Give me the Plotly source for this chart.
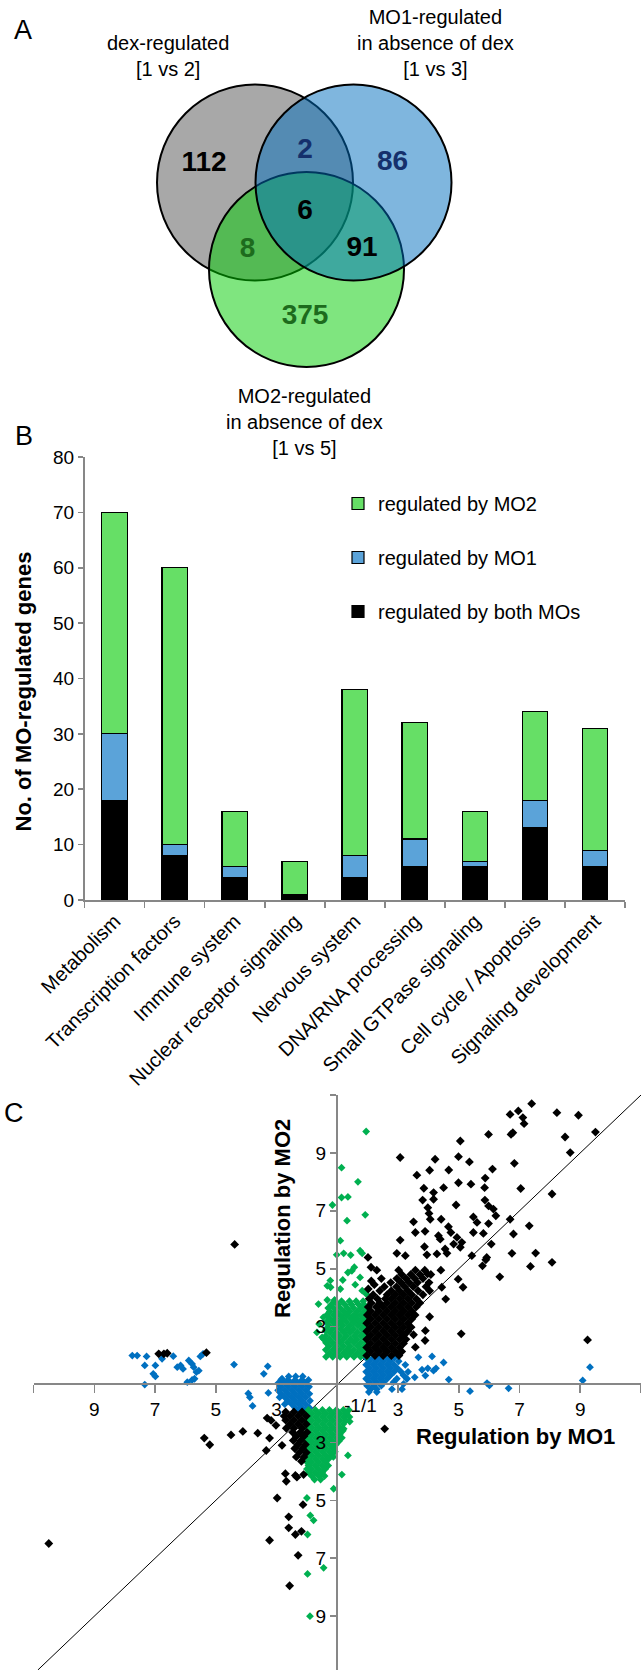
import plotly.graph_objects as go

W, H = 641, 1670
FONT = "Liberation Sans, Arial, sans-serif"
AX = "#878787"

# ---------------- Panel A: Venn data ----------------
venn_set_labels = [
    "dex-regulated<br>[1 vs 2]",
    "MO1-regulated<br>in absence of dex<br>[1 vs 3]",
    "MO2-regulated<br>in absence of dex<br>[1 vs 5]",
]
venn_regions = ["dex only", "MO1 only", "MO2 only", "dex & MO1", "dex & MO2", "MO1 & MO2", "all three"]
venn_counts = [112, 86, 375, 2, 8, 91, 6]
venn_count_colors = ["#000000", "#15306c", "#1d6b1d", "#15306c", "#1d6b1d", "#000000", "#000000"]

# ---------------- Panel B: bar data ----------------
categories = ["Metabolism", "Transcription factors", "Immune system", "Nuclear receptor signaling",
              "Nervous system", "DNA/RNA processing", "Small GTPase signaling",
              "Cell cycle / Apoptosis", "Signaling development"]
both_mos = [18, 8, 4, 1, 4, 6, 6, 13, 6]
mo1_only = [12, 2, 2, 0, 4, 5, 1, 5, 3]
mo2_only = [40, 50, 10, 6, 30, 21, 9, 16, 22]
bar_ticks = list(range(0, 81, 10))

# ---------------- Panel C: scatter data ----------------
# axis units: signed (fold change - 1); 0 = "-1/1"
fold_tick_pos = [-10, -8, -6, -4, -2, 2, 4, 6, 8, 10]
fold_tick_text = ["", "9", "7", "5", "3", "3", "5", "7", "9", ""]

green_rows = [
    (0.96, [-0.37, -0.15, 0.09, 0.31, 0.55, 0.77, 0.97]),
    (1.08, [-0.26, -0.03, 0.21, 0.43, 0.66, 0.88]),
    (1.20, [-0.38, -0.14, 0.08, 0.32, 0.54, 0.78, 0.96]),
    (1.32, [-0.27, -0.04, 0.20, 0.42, 0.67, 0.89]),
    (1.44, [-0.37, -0.15, 0.09, 0.33, 0.55, 0.77, 0.97]),
    (1.56, [-0.26, -0.02, 0.20, 0.44, 0.65, 0.90]),
    (1.68, [-0.38, -0.13, 0.08, 0.31, 0.56, 0.78, 0.96]),
    (1.80, [-0.25, -0.03, 0.21, 0.43, 0.66, 0.88]),
    (1.92, [-0.37, -0.15, 0.10, 0.32, 0.54, 0.79, 0.97]),
    (2.04, [-0.27, -0.03, 0.19, 0.43, 0.67, 0.89]),
    (2.16, [-0.36, -0.14, 0.09, 0.31, 0.55, 0.77, 0.96]),
    (2.28, [-0.26, -0.04, 0.20, 0.44, 0.66, 0.88]),
    (2.40, [-0.35, -0.13, 0.09, 0.32, 0.55, 0.78, 0.95]),
    (2.52, [-0.25, -0.03, 0.21, 0.42, 0.66, 0.89]),
    (2.64, [-0.30, -0.12, 0.10, 0.33, 0.54, 0.77, 0.93]),
    (2.76, [-0.20, 0.02, 0.25, 0.47, 0.70, 0.88]),
    (2.88, [-0.10, 0.14, 0.40, 0.62, 0.85]),
    (-0.88, [-0.95, -0.72, -0.49, -0.26, -0.03, 0.20, 0.38]),
    (-1.00, [-1.03, -0.84, -0.61, -0.38, -0.15, 0.08, 0.30]),
    (-1.12, [-0.95, -0.72, -0.49, -0.26, -0.03, 0.20, 0.40]),
    (-1.24, [-1.03, -0.84, -0.61, -0.38, -0.15, 0.08, 0.28]),
    (-1.36, [-0.95, -0.72, -0.49, -0.26, -0.03, 0.20]),
    (-1.48, [-1.03, -0.84, -0.61, -0.38, -0.15, 0.08]),
    (-1.60, [-0.95, -0.72, -0.49, -0.26, -0.03, 0.18]),
    (-1.72, [-1.03, -0.84, -0.61, -0.38, -0.15, 0.08]),
    (-1.84, [-0.95, -0.72, -0.49, -0.26, -0.03, 0.15]),
    (-1.96, [-1.03, -0.84, -0.61, -0.38, -0.15, 0.05]),
    (-2.08, [-0.95, -0.72, -0.49, -0.26, -0.05]),
    (-2.20, [-1.03, -0.84, -0.61, -0.38, -0.15]),
    (-2.32, [-0.95, -0.72, -0.49, -0.26, -0.08]),
    (-2.44, [-1.00, -0.84, -0.61, -0.38, -0.18]),
    (-2.56, [-0.95, -0.72, -0.49, -0.28]),
    (-2.68, [-1.00, -0.84, -0.61, -0.38]),
    (-2.80, [-0.95, -0.72, -0.49, -0.30]),
    (-2.92, [-1.00, -0.84, -0.61, -0.40]),
    (-3.04, [-0.95, -0.72, -0.50]),
    (-3.16, [-0.84, -0.61, -0.42]),
    (-3.28, [-0.75, -0.55]),
]
green_scattered = [
    (0.95, 8.74), (0.14, 7.49), (0.68, 7.0), (0.14, 6.46), (0.35, 6.48), (-0.16, 6.20), (0.92, 5.86),
    (0.32, 5.66), (0.10, 4.97), (-0.02, 4.48), (0.21, 4.53), (0.44, 4.47), (0.75, 4.62), (0.82, 4.53),
    (0.35, 3.87), (0.48, 3.93), (0.75, 3.70), (0.18, 3.61), (-0.22, 3.36), (-0.33, 3.41), (0.10, 3.30),
    (0.82, 3.24), (0.95, 3.13), (-0.62, 2.78), (-0.33, 2.92), (-0.09, 2.92), (-0.46, 2.32), (-0.60, 2.09),
    (-0.39, 1.86), (-0.46, 1.58), (-0.67, 1.80), (-0.50, 1.63), (0.56, 4.05), (0.59, 3.45), (-0.23, 3.59),
    (0.35, -2.45), (0.15, -3.11), (-0.12, -3.60), (-1.0, -3.92), (-0.89, -4.52), (-0.78, -4.69),
    (-0.98, -5.18), (-0.45, -6.33), (-0.98, -6.54), (-0.90, -8.0), (0.41, -1.28), (0.21, -1.53),
    (-0.13, -2.5),
]

blue_rows = [
    (0.92, [0.95, 1.18, 1.41, 1.64, 1.88]),
    (0.80, [1.06, 1.29, 1.52, 1.75, 2.02]),
    (0.68, [0.95, 1.18, 1.41, 1.64, 1.87, 2.24]),
    (0.56, [1.06, 1.29, 1.52, 1.75, 1.98]),
    (0.44, [0.95, 1.18, 1.41, 1.64, 1.87, 2.10, 2.33]),
    (0.32, [1.06, 1.29, 1.52, 1.75, 2.18]),
    (0.20, [0.95, 1.18, 1.41, 1.64, 1.96, 2.29]),
    (0.08, [1.06, 1.29, 1.52, 1.85]),
    (-0.04, [0.98, 1.21, 1.45]),
    (-0.16, [1.10, 1.30, 1.80, 2.13]),
    (-0.26, [1.04, 1.30]),
    (0.28, [-1.60, -1.37, -1.14]),
    (0.16, [-1.85, -1.62, -1.39, -1.16, -0.95]),
    (0.04, [-1.95, -1.73, -1.50, -1.27, -1.04]),
    (-0.08, [-1.85, -1.62, -1.39, -1.16, -0.93]),
    (-0.20, [-1.95, -1.73, -1.50, -1.27, -1.04]),
    (-0.32, [-1.85, -1.62, -1.39, -1.16, -0.92]),
    (-0.44, [-1.90, -1.73, -1.50, -1.27, -1.04]),
    (-0.56, [-1.62, -1.39, -1.16, -0.90]),
    (-0.68, [-1.73, -1.50, -1.27, -1.04]),
    (-0.80, [-1.39, -1.16, -0.92]),
    (-0.90, [-1.27, -1.04]),
]
blue_scattered = [
    (2.55, 0.25), (2.90, 0.31), (3.17, 0.48), (2.98, 0.56), (3.12, 0.97), (3.50, 0.76), (3.25, 0.56),
    (3.67, 0.17), (4.37, -0.23), (4.93, 0.05), (5.01, -0.03), (5.64, -0.13), (8.08, 0.14), (8.32, 0.60),
    (2.67, 0.94), (2.79, 0.51), (2.29, 0.20), (2.18, 0.02),
    (-6.75, 1.0), (-6.59, 1.0), (-6.28, 0.97), (-6.34, 0.66), (-5.99, 0.66), (-6.06, 0.37), (-5.99, 0.28),
    (-6.34, 0.0), (-5.77, 0.89), (-5.40, 0.98), (-5.27, 0.60), (-5.16, 0.66), (-5.08, 0.54), (-4.89, 0.83),
    (-4.78, 0.71), (-4.73, 0.60), (-4.64, 0.43), (-4.56, 0.48), (-4.94, 0.08), (-4.78, 0.16), (-4.70, 0.20),
    (-4.51, 0.97), (-4.42, 1.06), (-3.40, 0.69), (-2.42, 0.37), (-2.29, 0.63), (-2.93, -0.31),
    (-2.79, -0.74), (-2.27, -0.29), (-1.82, 0.2), (-1.93, 0.02), (-2.88, -0.44),
]

black_rows = [
    (1.00, [0.97, 1.24, 1.51, 1.78, 2.03]),
    (1.14, [1.10, 1.37, 1.64, 1.91, 2.12]),
    (1.28, [0.97, 1.24, 1.51, 1.78, 2.05]),
    (1.42, [1.10, 1.37, 1.64, 1.91, 2.18]),
    (1.56, [0.97, 1.24, 1.51, 1.78, 2.05, 2.26]),
    (1.70, [1.10, 1.37, 1.64, 1.91, 2.18]),
    (1.84, [0.97, 1.24, 1.51, 1.78, 2.05, 2.32]),
    (1.98, [1.10, 1.37, 1.64, 1.91, 2.18, 2.40]),
    (2.12, [0.97, 1.24, 1.51, 1.78, 2.05, 2.32]),
    (2.26, [1.10, 1.37, 1.64, 1.91, 2.18, 2.45]),
    (2.40, [0.99, 1.24, 1.51, 1.78, 2.05, 2.32, 2.56]),
    (2.54, [1.10, 1.37, 1.64, 1.91, 2.18, 2.45]),
    (2.68, [1.02, 1.28, 1.51, 1.78, 2.05, 2.32, 2.60]),
    (2.82, [1.12, 1.40, 1.64, 1.91, 2.18, 2.45, 2.72]),
    (2.96, [1.05, 1.32, 1.58, 1.78, 2.05, 2.32, 2.60]),
    (3.10, [1.18, 1.64, 1.91, 2.18, 2.45, 2.82]),
    (3.24, [1.40, 1.78, 2.05, 2.32, 2.66]),
    (3.38, [1.55, 1.95, 2.22, 2.50, 2.92]),
    (3.52, [1.76, 2.10, 2.37, 2.64, 3.02]),
    (3.66, [1.96, 2.26, 2.55, 2.82]),
    (3.80, [2.12, 2.42, 2.72, 3.08]),
    (3.95, [2.02, 2.57, 2.88]),
    (-0.95, [-1.70, -1.43, -1.16]),
    (-1.09, [-1.75, -1.56, -1.29, -1.02]),
    (-1.23, [-1.70, -1.43, -1.16]),
    (-1.37, [-1.56, -1.29, -1.02]),
    (-1.51, [-1.68, -1.43, -1.16]),
    (-1.65, [-1.47, -1.22, -1.00]),
    (-1.79, [-1.35, -1.10]),
    (-1.93, [-1.45, -1.20]),
    (-2.07, [-1.30, -1.05]),
    (-2.21, [-1.40, -1.15]),
    (-2.35, [-1.25, -1.02]),
    (-2.50, [-1.35, -1.10]),
    (-2.65, [-1.18]),
]
black_scattered = [
    (5.69, 9.33), (5.96, 9.45), (6.11, 9.22), (6.15, 9.01), (5.78, 8.70), (5.72, 8.64), (4.98, 8.64),
    (4.05, 8.41), (2.07, 7.84), (3.22, 7.78), (3.99, 7.87), (4.35, 7.69), (5.83, 7.64), (5.11, 7.44),
    (2.62, 7.23), (3.04, 7.40), (3.67, 7.41), (4.87, 7.13), (3.99, 6.97), (4.40, 6.92), (4.85, 6.80),
    (6.04, 6.77), (2.85, 6.78), (3.17, 6.63), (3.50, 6.80), (2.81, 6.37), (3.17, 6.40), (3.91, 6.20),
    (4.86, 6.37), (2.98, 6.11), (4.98, 6.17), (5.14, 6.06), (3.02, 5.91), (3.06, 5.71), (3.42, 5.71),
    (2.51, 5.62), (3.66, 5.45), (4.48, 5.79), (4.60, 5.60), (5.22, 5.83), (5.69, 5.71), (6.32, 5.48),
    (2.57, 5.25), (2.89, 5.29), (3.33, 5.14), (3.74, 5.25), (3.94, 5.08), (4.10, 4.91), (4.48, 5.25),
    (4.81, 5.22), (4.98, 5.56), (2.07, 4.99), (3.39, 5.02), (3.83, 4.85), (4.05, 4.74), (5.07, 4.85),
    (5.80, 5.20), (2.87, 4.76), (3.55, 4.68), (1.96, 4.53), (2.24, 4.45), (2.95, 4.48), (3.28, 4.51),
    (3.61, 4.53), (4.43, 4.45), (4.92, 4.39), (5.75, 4.53), (1.01, 4.39),
    (7.23, 9.39), (7.94, 9.30), (8.50, 8.72), (7.50, 8.55), (7.67, 8.01), (7.07, 6.58), (6.53, 4.54),
    (6.36, 4.08), (7.07, 4.22), (8.24, 1.54), (6.40, 9.70), (5.35, 3.72), (4.78, 4.10), (4.89, 4.31),
    (4.08, 1.75), (4.14, 3.36), (3.98, 3.64), (3.57, 2.95), (3.04, 2.34), (2.90, 1.86), (2.43, 1.98),
    (2.57, 1.29), (2.18, 1.69), (2.51, 1.72), (2.89, 1.52), (1.11, 4.05), (1.30, 3.95), (1.45, 3.66),
    (2.97, 3.82), (3.41, 3.95), (3.44, 3.36), (3.04, 3.24), (1.02, 3.30), (1.12, 3.58), (1.22, 3.45),
    (-3.38, 4.84), (-5.88, 1.06), (-5.71, 1.06), (-5.60, 1.08), (-4.31, 1.10),
    (-4.38, -1.85), (-4.20, -2.08), (-3.50, -1.74), (-3.11, -1.62), (-2.62, -1.68), (-2.23, -1.85),
    (-2.34, -2.28), (-1.82, -2.10), (-2.31, -1.16), (-2.18, -1.24), (-2.02, -1.41), (-1.71, -3.08),
    (-1.68, -3.34), (-1.38, -3.14), (-1.33, -3.20), (-1.11, -3.11), (-1.98, -3.92), (-1.13, -4.15),
    (-1.60, -4.57), (-1.60, -4.95), (-1.38, -5.18), (-1.18, -5.07), (-2.23, -5.38), (-1.29, -5.90),
    (-1.57, -6.95), (-9.50, -5.49), (1.56, -1.53),
]
identity_line = [-9.86, 10]


# ---------------- helpers (layout only) ----------------
def fx(p):
    return p / W


def fy(p):
    return 1 - p / H


def flatten(rows, extra):
    xs, ys = [], []
    for yv, row in rows:
        for xv in row:
            xs.append(xv)
            ys.append(yv)
    for xv, yv in extra:
        xs.append(xv)
        ys.append(yv)
    return xs, ys


def note(text, x, y, size, angle=0):
    return dict(text=text, x=fx(x), y=fy(y), xref="paper", yref="paper", showarrow=False,
                xanchor="center", yanchor="middle", textangle=angle,
                font=dict(size=size, family=FONT, color="black"))


fig = go.Figure()

# ---------------- Panel A ----------------
venn_label_pos = [(204, 164), (392.5, 163), (305, 317), (305, 151), (247.5, 250), (362, 249), (305, 212)]
fig.add_trace(go.Scatter(
    x=[p[0] for p in venn_label_pos], y=[p[1] for p in venn_label_pos], mode="text",
    text=[f"<b>{c}</b>" for c in venn_counts],
    textfont=dict(size=28, color=venn_count_colors, family=FONT),
    xaxis="x3", yaxis="y3", showlegend=False, hoverinfo="skip"))

venn_circles = [  # (cx, cy, r, fill)
    (255, 182.5, 98, "#a8a8a8"),
    (306.5, 269.5, 97.5, "rgba(0,203,0,0.5)"),
    (353.5, 182.5, 98, "rgba(0,109,189,0.5)"),
]
shapes = []
for cx, cy, r, fill in venn_circles:
    shapes.append(dict(type="circle", xref="x3", yref="y3", x0=cx - r, x1=cx + r, y0=cy - r, y1=cy + r,
                       fillcolor=fill, line=dict(color="black", width=2), layer="below"))

annotations = []
venn_title_pos = [(167.6, 55.5), (435, 42.5), (304.6, 422)]
for txt, (ax_, ay_) in zip(venn_set_labels, venn_title_pos):
    annotations.append(dict(text=txt, x=ax_, y=ay_, xref="x3", yref="y3", showarrow=False,
                            xanchor="center", yanchor="middle",
                            font=dict(size=20, family=FONT, color="black"), align="center"))

# ---------------- Panel B ----------------
for name, vals, color, rank in [("regulated by both MOs", both_mos, "#000000", 3),
                                ("regulated by MO1", mo1_only, "#5ba3d9", 2),
                                ("regulated by MO2", mo2_only, "#66df66", 1)]:
    fig.add_trace(go.Bar(x=categories, y=vals, name=name, legendgroup=name, legendrank=rank,
                         marker=dict(color=color, line=dict(color="black", width=1.2)),
                         xaxis="x", yaxis="y"))

annotations.append(note("<b>No. of MO-regulated genes</b>", 22.5, 692, 22, -90))

# ---------------- Panel C ----------------
fig.add_trace(go.Scatter(x=identity_line, y=identity_line, mode="lines", line=dict(color="black", width=1),
                         xaxis="x2", yaxis="y2", showlegend=False, hoverinfo="skip"))
bx, by = flatten(blue_rows, blue_scattered)
gx, gy = flatten(green_rows, green_scattered)
kx, ky = flatten(black_rows, black_scattered)
for xs, ys, col, sz in [(bx, by, "#0070c0", 6), (gx, gy, "#00b050", 6), (kx, ky, "#000000", 6.8)]:
    fig.add_trace(go.Scatter(x=xs, y=ys, mode="markers", xaxis="x2", yaxis="y2", showlegend=False,
                             marker=dict(symbol="diamond", size=sz, color=col, line=dict(width=0))))

annotations += [
    note("-1/1", 360, 1405, 19),
    note("<b>Regulation by MO2</b>", 282, 1219, 22, -90),
    note("<b>Regulation by MO1</b>", 515, 1436, 22),
]
for letter, (lx, ly) in zip("ABC", [(22.5, 30), (23.5, 436), (14, 1113)]):
    annotations.append(note(letter, lx, ly, 27))

axis_common = dict(showgrid=False, zeroline=False, showline=True, linecolor=AX, linewidth=1.6,
                   ticks="outside", tickcolor=AX, tickwidth=1.6, automargin=False,
                   tickfont=dict(size=19, family=FONT, color="black"))

fig.update_layout(
    width=W, height=H, margin=dict(l=0, r=0, t=0, b=0), template="none",
    paper_bgcolor="white", plot_bgcolor="rgba(0,0,0,0)",
    font=dict(family=FONT, color="black", size=18),
    barmode="stack", bargap=0.575,
    shapes=shapes, annotations=annotations,
    legend=dict(x=fx(338), y=fy(484), xanchor="left", yanchor="top", font=dict(size=20, family=FONT),
                traceorder="grouped", tracegroupgap=25, bgcolor="rgba(0,0,0,0)"),
    xaxis=dict(axis_common, domain=[fx(84.6), fx(625)], anchor="y", type="category",
               tickson="boundaries", ticklen=6, tickangle=-45,
               tickfont=dict(size=20, family=FONT, color="black")),
    yaxis=dict(axis_common, domain=[fy(900), fy(457)], anchor="x", range=[0, 80],
               tickvals=bar_ticks, ticklen=5),
    xaxis2=dict(axis_common, domain=[fx(33.6), 1], anchor="free", position=fy(1384), range=[-10, 10],
                tickvals=fold_tick_pos, ticktext=fold_tick_text, ticklen=8, linewidth=2),
    yaxis2=dict(axis_common, domain=[0, fy(1095)], anchor="free", position=fx(337), range=[-9.86, 10],
                tickvals=fold_tick_pos[1:], ticktext=fold_tick_text[1:], ticklen=6, linewidth=2),
    xaxis3=dict(domain=[0, 1], anchor="y3", range=[0, W], visible=False),
    yaxis3=dict(domain=[fy(440), 1], anchor="x3", range=[440, 0], visible=False),
)

fig.write_html("out.html", config={"displayModeBar": False, "staticPlot": True},
               post_script="document.body.style.margin='0';document.body.style.padding='0';")
